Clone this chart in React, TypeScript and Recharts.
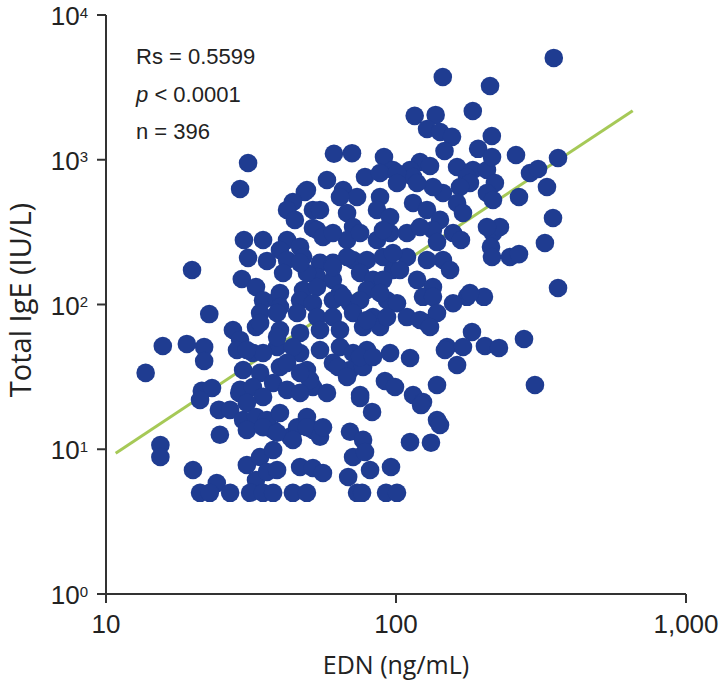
import React from 'react';
import { ScatterChart, Scatter, XAxis, YAxis, ReferenceLine } from 'recharts';

// EDN (ng/mL) and Total IgE (IU/L)
const ednValues = [
  350, 145, 211, 184, 116, 137, 128, 142, 156, 214, 147, 192,
  61.1, 70.5, 90.9, 97.6, 78.2, 88.1, 57.8, 49.3, 65.7, 73.4, 64.1, 88.1, 30.9, 29.0, 48.5, 44.1,
  121, 131, 111.8, 114.5, 100.8, 162.4, 184.2, 205.9, 175.7, 214.3, 259.3, 362, 289.8, 308.9, 331.6,
  265.5, 219.3, 205.9, 216, 179.9, 166.2, 145.2, 134.1, 118.2, 100.8,
  42.1, 44.8, 51.7, 51.7, 54.7, 67.8, 86, 95.4, 53.4, 56, 71.1, 67.8, 75.2, 86, 95.4, 29.9, 34.8, 42.1,
  39.8, 46.7, 114.5, 127.9, 141.8, 162.4, 170.2, 60.6, 90.2, 109.1, 134.1, 157.3, 121, 138.5, 167.5,
  216, 228.3, 205.9, 347.8, 326.2, 212.6,
  30.9, 35.9, 42.1, 47.8, 54.7, 60.6, 71.1, 79.4, 90.2, 19.8, 40.8, 53.4, 60.6, 75.2, 83.3, 97.6, 29.4,
  32.9, 47.8, 53.4, 64.1, 79.4, 34.8, 38.9, 46.7, 51.7, 60.6, 69.4, 93.1, 100.8, 39.8, 39.8, 145.2,
  153.6, 127.9, 109.1, 97.6, 67.8, 60.6, 49.3, 90.2, 103.2, 118.2, 134.1, 123.9, 65.7, 75.2, 88.1,
  214.3, 247.2, 265.5, 362, 201, 175.7, 157.3, 179.9, 134.1, 46.7,
  22.7, 34.0, 38.9, 45.6, 53.4, 60.6, 71.1, 83.3, 27.4, 29.0, 32.9, 39.8, 46.7, 54.7, 64.1, 77.0, 88.1,
  15.7, 19.0, 21.8, 21.8, 28.3, 32.1, 38.9, 46.7, 54.7, 64.1, 71.1, 79.4, 95.4, 34.8, 30.6, 44.1, 38.9,
  79.4, 93.1, 109.1, 127.9, 138.5, 121, 131, 149.9, 182.8, 170.2, 202.6, 226.5, 276.3, 147.5, 34.0,
  60.6, 69.4, 13.7, 29.7, 34.0, 39.8, 49.3, 63.1, 67.8, 77.0, 91.6, 21.4, 29.0, 37.7, 42.1, 51.7, 57.8,
  75.2, 23.2, 28.8, 32.1, 34.8, 42.1, 50.5, 46.7, 46.7, 75.2, 83.3, 111.8, 162.4, 138.5, 114.5, 99.2,
  123.9, 301.4, 21.1,
  24.5, 24.7, 26.8, 29.7, 30.6, 32.9, 37.7, 35.9, 39.8, 43.1, 45.6, 49.3, 51.7, 30.6, 34.8, 38.9, 44.1,
  49.3, 54.7, 56.0, 69.4, 75.2, 82.7, 122, 138.5, 141.8, 111.8, 132, 77.0, 15.4,
  15.4, 19.95, 21.1, 24.1, 26.8, 30.6, 34.0, 37.7, 32.9, 35.9, 38.9, 31.4, 34.8, 37.7, 44.1, 49.3, 46.7,
  51.7, 56.0, 68.4, 71.1, 73.4, 22.8, 78.2, 81.4, 96.1, 76.4, 92.4, 100.8,
];

const igeValues = [
  5050, 3730, 3230, 2170, 2010, 2040, 1630, 1555, 1440, 1460, 1150, 1190,
  1100, 1110, 1045, 850, 760, 810, 725, 618, 618, 553, 553, 553, 950, 628, 599, 511,
  965, 905, 850, 760, 810, 891, 850, 850, 760, 1045, 1078, 1028, 810, 863, 648,
  553, 691, 589, 527, 691, 648, 589, 648, 691, 691,
  450, 384, 338, 450, 450, 429, 450, 402, 327, 293, 343, 279, 312, 279, 312, 279, 279, 279,
  238, 250, 503, 450, 384, 503, 429, 312, 327, 312, 327, 312, 343, 270, 279,
  312, 343, 343, 396, 266, 250,
  210, 200, 203, 213, 194, 194, 203, 203, 213, 173, 165, 155, 148, 165, 148, 173, 150,
  132, 126, 132, 120, 126, 107, 107, 107, 102, 107, 102, 107, 102, 120, 96.1, 203,
  173, 203, 213, 227, 213, 182, 165, 148, 173, 148, 132, 113, 113, 107, 120,
  213, 213, 223, 130, 113, 113, 102, 120, 113, 194,
  85.9, 87.3, 87.3, 87.3, 81.9, 81.9, 87.3, 81.9, 66.7, 56.9, 69.9, 66.7, 63.6, 66.7, 66.7, 69.9, 69.9,
  51.7, 53.4, 50.9, 40.7, 48.5, 46.2, 50.9, 46.2, 48.5, 50.9, 46.2, 48.5, 46.2, 46.2, 48.5, 50.9, 59.7,
  78.2, 81.9, 81.9, 74.5, 87.3, 78.2, 69.9, 50.9, 64.6, 50.9, 51.7, 50.1, 57.8, 48.5, 74.5,
  39.5, 35.3, 33.7, 35.3, 33.7, 37.0, 35.3, 37.0, 31.6, 37.0, 29.6, 25.3, 25.7, 28.7, 25.7, 26.9, 24.5,
  23.7, 26.5, 24.5, 26.9, 23.0, 39.5, 30.1, 24.5, 33.7, 43.4, 43.4, 42.7, 38.2, 27.8, 23.7, 26.9,
  21.2, 27.8, 21.9,
  18.7, 12.6, 18.7, 15.9, 20.9, 16.7, 13.6, 15.9, 17.8, 12.2, 14.2, 16.7, 13.6, 13.6, 14.2, 13.0, 11.6,
  14.2, 12.2, 14.2, 13.2, 22.6, 18.1, 20.2, 15.9, 14.7, 11.2, 11.1, 11.6, 10.7,
  8.84, 7.19, 5, 5.84, 5, 7.78, 8.84, 9.88, 6.13, 6.97, 7.19, 5, 5, 5, 5, 5, 7.54,
  7.42, 6.85, 6.43, 8.84, 5, 5, 9.57, 7.19, 7.54, 5, 5, 5,
];

const xTicks = [10, 100, 1000];
const xTickLabels = ['10', '100', '1,000'];
const yTicks = [1, 10, 100, 1000, 10000];
const yTickExponents = ['0', '1', '2', '3', '4'];

// regression line end points (EDN, IgE)
const fitEdn = [10.8, 655];
const fitIge = [9.38, 2183];

const statLines = ['Rs = 0.5599', '< 0.0001', 'n = 396'];

const data = ednValues.map((x, i) => ({ x, y: igeValues[i] }));

const DOT = '#1f3c91';
const LINE = '#a6c957';
const INK = '#222222';
const TICK_FONT = '"Liberation Sans", Arial, sans-serif';
const TITLE_FONT = '"Open Sans", "Noto Sans", sans-serif';

const YTick = (props: any) => {
  const { x, y, payload } = props;
  const idx = yTicks.indexOf(payload.value);
  return (
    <text x={x - 9} y={y + 10} textAnchor="end" fill={INK} fontFamily={TICK_FONT}>
      <tspan fontSize={26}>10</tspan>
      <tspan fontSize={15} dy={-7.5}>{yTickExponents[idx]}</tspan>
    </text>
  );
};

const XTick = (props: any) => {
  const { x, y, payload } = props;
  const idx = xTicks.indexOf(payload.value);
  return (
    <text x={x} y={y + 30} textAnchor="middle" fill={INK} fontFamily={TICK_FONT} fontSize={26}>
      {xTickLabels[idx]}
    </text>
  );
};

const Dot = (p: any) => <circle cx={p.cx} cy={p.cy} r={9.3} fill={DOT} />;

export default function App() {
  const W = 720;
  const H = 687;
  return (
    <div style={{ position: 'relative', width: W, height: H, background: '#fff' }}>
      <style>{'html, body { margin: 0; padding: 0; overflow: hidden; }'}</style>
      <ScatterChart width={W} height={H} margin={{ top: 15, right: 34, bottom: 33, left: 0 }}>
        <XAxis
          dataKey="x"
          type="number"
          scale="log"
          domain={[10, 1000]}
          ticks={xTicks}
          interval={0}
          allowDataOverflow
          height={60}
          tickSize={9}
          tickMargin={0}
          axisLine={{ stroke: '#333', strokeWidth: 2 }}
          tickLine={{ stroke: '#333', strokeWidth: 2 }}
          tick={<XTick />}
        />
        <YAxis
          dataKey="y"
          type="number"
          scale="log"
          domain={[1, 10000]}
          ticks={yTicks}
          interval={0}
          allowDataOverflow
          width={106}
          tickSize={9}
          tickMargin={0}
          axisLine={{ stroke: '#333', strokeWidth: 2 }}
          tickLine={{ stroke: '#333', strokeWidth: 2 }}
          tick={<YTick />}
        />
        <Scatter data={data} fill={DOT} shape={Dot} isAnimationActive={false} />
        <ReferenceLine
          segment={[
            { x: fitEdn[0], y: fitIge[0] },
            { x: fitEdn[1], y: fitIge[1] },
          ]}
          stroke={LINE}
          strokeWidth={3}
          ifOverflow="visible"
        />
      </ScatterChart>
      <svg
        width={W}
        height={H}
        style={{ position: 'absolute', left: 0, top: 0, pointerEvents: 'none' }}
      >
        <g fontFamily={TICK_FONT} fontSize={22} fill={INK}>
          <text x={136} y={64.3}>{statLines[0]}</text>
          <text x={136} y={101.7}>
            <tspan fontStyle="italic">p</tspan> {statLines[1]}
          </text>
          <text x={136} y={139.3}>{statLines[2]}</text>
        </g>
        <text x={396} y={674} textAnchor="middle" fontFamily={TITLE_FONT} fontSize={25} fill={INK}>
          EDN (ng/mL)
        </text>
        <text
          transform="translate(31, 300) rotate(-90)"
          textAnchor="middle"
          fontFamily={TITLE_FONT}
          fontSize={29}
          fill={INK}
        >
          Total IgE (IU/L)
        </text>
      </svg>
    </div>
  );
}
